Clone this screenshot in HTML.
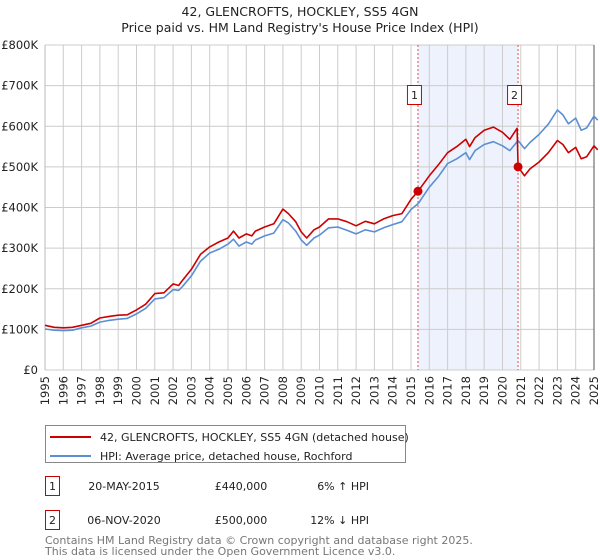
<!DOCTYPE html>
<html><head><meta charset="utf-8"><style>
body{margin:0;background:#fff;font-family:"DejaVu Sans","Liberation Sans",sans-serif;}
#c{position:relative;width:600px;height:560px;overflow:hidden}
</style></head><body>
<div id="c">
<svg id="svg" width="600" height="560" xmlns="http://www.w3.org/2000/svg" font-family="DejaVu Sans, Liberation Sans, sans-serif">
<text x="300" y="16" text-anchor="middle" font-size="12.5" fill="#222">42, GLENCROFTS, HOCKLEY, SS5 4GN</text>
<text x="300" y="32" text-anchor="middle" font-size="12.5" fill="#222">Price paid vs. HM Land Registry's House Price Index (HPI)</text>
<g id="grid"></g><g id="axes"></g><g id="series"></g>
<g>
<rect x="45.5" y="425.5" width="360" height="37" fill="#fff" stroke="#888"/>
<line x1="50" y1="437" x2="91" y2="437" stroke="#cc0000" stroke-width="2"/>
<text x="100" y="441" font-size="11" fill="#222">42, GLENCROFTS, HOCKLEY, SS5 4GN (detached house)</text>
<line x1="50" y1="456" x2="91" y2="456" stroke="#5b8fd4" stroke-width="2"/>
<text x="100" y="460" font-size="11" fill="#222">HPI: Average price, detached house, Rochford</text>
</g>
<g font-size="11" fill="#222">
<rect x="45.5" y="476.5" width="14" height="19" fill="none" stroke="#cc0000"/>
<text x="52.5" y="490" text-anchor="middle">1</text>
<text x="124" y="490" text-anchor="middle">20-MAY-2015</text>
<text x="241" y="490" text-anchor="middle">£440,000</text>
<text x="369" y="490" text-anchor="end">6% ↑ HPI</text>
<rect x="45.5" y="510.5" width="14" height="19" fill="none" stroke="#cc0000"/>
<text x="52.5" y="524" text-anchor="middle">2</text>
<text x="124" y="524" text-anchor="middle">06-NOV-2020</text>
<text x="241" y="524" text-anchor="middle">£500,000</text>
<text x="369" y="524" text-anchor="end">12% ↓ HPI</text>
</g>
<text x="45" y="544" font-size="11" fill="#777">Contains HM Land Registry data © Crown copyright and database right 2025.</text>
<text x="45" y="555" font-size="11" fill="#777">This data is licensed under the Open Government Licence v3.0.</text>
</svg>
</div>
<script>
const yTicks=[0,100,200,300,400,500,600,700,800];
const yTickLabels=["£0","£100K","£200K","£300K","£400K","£500K","£600K","£700K","£800K"];
const xTicks=[1995,1996,1997,1998,1999,2000,2001,2002,2003,2004,2005,2006,2007,2008,2009,2010,2011,2012,2013,2014,2015,2016,2017,2018,2019,2020,2021,2022,2023,2024,2025];
const hpiYears=[1995,1995.5,1996,1996.5,1997,1997.5,1998,1998.5,1999,1999.5,2000,2000.5,2001,2001.5,2002,2002.3,2002.5,2003,2003.5,2004,2004.5,2005,2005.3,2005.6,2006,2006.3,2006.5,2007,2007.5,2008,2008.3,2008.7,2009,2009.3,2009.7,2010,2010.5,2011,2011.5,2012,2012.5,2013,2013.5,2014,2014.5,2015,2015.4,2016,2016.5,2017,2017.5,2018,2018.2,2018.5,2019,2019.5,2020,2020.4,2020.85,2021.2,2021.5,2022,2022.5,2023,2023.3,2023.6,2024,2024.3,2024.6,2025,2025.2];
const hpiValues=[101,98,97,98,104,108,118,122,125,127,138,152,175,178,198,196,205,232,268,288,297,310,322,305,315,310,320,330,337,370,362,342,320,307,325,332,350,352,344,335,345,340,350,358,365,395,410,450,476,508,520,535,518,540,555,562,552,540,565,545,560,580,605,640,628,606,620,590,596,625,615];
const priceYears=[1995,1995.5,1996,1996.5,1997,1997.5,1998,1998.5,1999,1999.5,2000,2000.5,2001,2001.5,2002,2002.3,2002.5,2003,2003.5,2004,2004.5,2005,2005.3,2005.6,2006,2006.3,2006.5,2007,2007.5,2008,2008.3,2008.7,2009,2009.3,2009.7,2010,2010.5,2011,2011.5,2012,2012.5,2013,2013.5,2014,2014.5,2015,2015.38,2016,2016.5,2017,2017.5,2018,2018.2,2018.5,2019,2019.5,2020,2020.4,2020.8,2020.85,2021.2,2021.5,2022,2022.5,2023,2023.3,2023.6,2024,2024.3,2024.6,2025,2025.2];
const priceValues=[110,105,104,105,110,115,128,132,135,136,148,162,188,190,212,208,220,248,285,303,315,325,342,325,335,330,342,352,360,396,385,365,340,325,345,352,372,372,365,355,366,360,372,380,385,420,440,478,505,535,550,568,550,572,590,598,585,568,595,500,478,495,512,535,565,555,535,548,520,525,552,542];
const sales=[{t:2015.38,v:440,label:"1"},{t:2020.85,v:500,label:"2"}];
const X0=45,X1=594,Y0=370,Y1=45;
const xs=t=>X0+(t-1995)*(X1-X0)/30;
const ys=v=>Y0-v*(Y0-Y1)/800;
const NS="http://www.w3.org/2000/svg";
function mk(tag,attrs,parent){const e=document.createElementNS(NS,tag);for(const k in attrs)e.setAttribute(k,attrs[k]);parent.appendChild(e);return e;}
const grid=document.getElementById('grid'),axes=document.getElementById('axes'),series=document.getElementById('series');
const shade=mk('rect',{x:xs(sales[0].t),y:Y1,width:xs(sales[1].t)-xs(sales[0].t),height:Y0-Y1,fill:'#eef2fc'},grid);


yTicks.forEach((v,i)=>{
 const l=mk('line',{x1:X0,x2:X1,y1:ys(v),y2:ys(v),stroke:'#cccccc','stroke-width':1},grid);
 
 
 const t=mk('text',{x:38,y:ys(v)+4,'text-anchor':'end','font-size':11.5,fill:'#222'},axes);
 t.textContent=yTickLabels[i];
 
 
});
xTicks.forEach(yr=>{
 const l=mk('line',{x1:xs(yr),x2:xs(yr),y1:Y1,y2:Y0,stroke:'#cccccc','stroke-width':1},grid);
 
 
 const x=xs(yr)+4;
 const t=mk('text',{x:x,y:376,'text-anchor':'end','font-size':11.5,fill:'#222',transform:'rotate(-90 '+x+' 376)'},axes);
 t.textContent=yr;
 
 
});
sales.forEach(s=>{
 const d=mk('line',{x1:xs(s.t),x2:xs(s.t),y1:Y1,y2:Y0,stroke:'#e05050','stroke-width':1,'stroke-dasharray':'2,2'},grid);
 
 
});
function path(xa,va,color,name){
 const d=xa.map((t,i)=>(i?'L':'M')+xs(t).toFixed(1)+','+ys(va[i]).toFixed(1)).join('');
 const p=mk('path',{d:d,fill:'none',stroke:color,'stroke-width':1.6,'stroke-linejoin':'round'},series);
 
 
}
path(hpiYears,hpiValues,'#5b8fd4','hpi-line');
path(priceYears,priceValues,'#cc0000','price-paid-line');
sales.forEach(s=>{
 const c=mk('circle',{cx:xs(s.t),cy:ys(s.v),r:4.5,fill:'#cc0000'},series);
 
 
 const r=mk('rect',{x:xs(s.t)-10.5,y:85.5,width:14,height:19,fill:'#fff',stroke:'#cc0000'},series);
 
 
 const t=mk('text',{x:xs(s.t)-3.5,y:99,'text-anchor':'middle','font-size':11,fill:'#222'},series);
 t.textContent=s.label;
 
 
});
const ax=mk('line',{x1:X0,x2:X0,y1:Y1,y2:Y0,stroke:'#bbb'},axes);


const rx=mk('line',{x1:X1,x2:X1,y1:Y1,y2:Y0,stroke:'#555'},axes);


</script>
</body></html>
